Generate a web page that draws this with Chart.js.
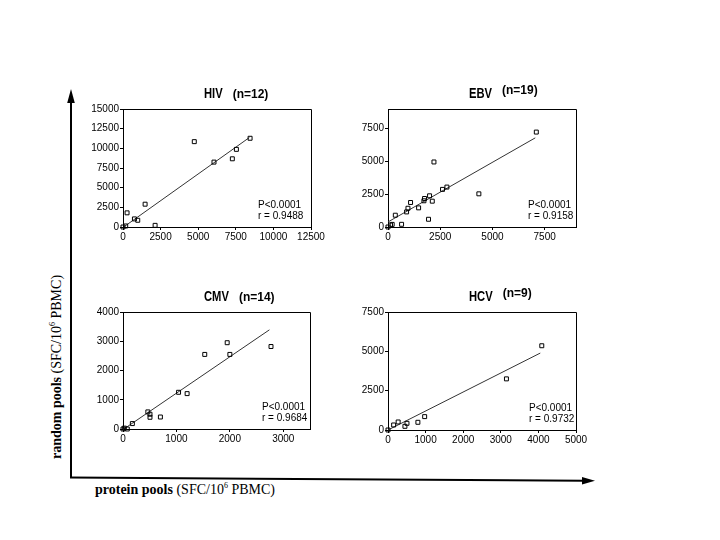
<!DOCTYPE html>
<html><head><meta charset="utf-8">
<script src="https://cdn.jsdelivr.net/npm/chart.js@4.4.0/dist/chart.umd.min.js"></script>
<style>
html,body{margin:0;padding:0;background:#fff;width:720px;height:540px;overflow:hidden;position:relative}
.pane{position:absolute}
.lbl{position:absolute;font-family:"Liberation Serif","Times New Roman",serif;font-size:14px;color:#000;white-space:nowrap;line-height:16px}
.lbl sup{font-size:8px;vertical-align:6px;line-height:0}
</style></head><body>
<svg width="720" height="540" style="position:absolute;left:0;top:0">
  <line x1="71" y1="100" x2="71" y2="478" stroke="#000" stroke-width="2"/>
  <polygon points="71,89 67.2,103 74.8,103" fill="#000"/>
  <line x1="70" y1="477.5" x2="584" y2="480.7" stroke="#000" stroke-width="2"/>
  <polygon points="595,480.7 582,477 582,484.4" fill="#000"/>
</svg>
<div class="lbl" id="ylab" style="left:57px;top:367px;transform:translate(-50%,-50%) rotate(-90deg)"><b>random pools</b> (SFC/10<sup>6</sup> PBMC)</div>
<div class="lbl" id="xlab" style="left:95px;top:482px"><b>protein pools</b> (SFC/10<sup>6</sup> PBMC)</div>
<div class="pane" id="p0"><canvas id="c0"></canvas></div>
<div class="pane" id="p1"><canvas id="c1"></canvas></div>
<div class="pane" id="p2"><canvas id="c2"></canvas></div>
<div class="pane" id="p3"><canvas id="c3"></canvas></div>
<script>
// ---------- data ----------
const hivProtein = [0, 180, 270, 760, 980, 1470, 2135, 4740, 6050, 7270, 7540, 8450];
const hivRandom  = [0, 130, 1800, 1030, 855, 2900, 210, 10850, 8250, 8670, 9870, 11280];
const hivFitX = [0, 8400];
const hivFitY = [-60, 11370];
const hivXTicks = [0, 2500, 5000, 7500, 10000, 12500];
const hivYTicks = [0, 2500, 5000, 7500, 10000, 12500, 15000];

const ebvProtein = [0, 120, 200, 350, 650, 890, 955, 1080, 1465, 1720, 1750, 1990, 1940, 2120, 2200, 2610, 2820, 4350, 7100];
const ebvRandom  = [0, 150, 200, 900, 205, 1150, 1430, 1870, 1460, 2000, 2175, 2380, 590, 1970, 4960, 2870, 3045, 2530, 7240];
const ebvFitX = [0, 7050];
const ebvFitY = [384, 6800];
const ebvXTicks = [0, 2500, 5000, 7500];
const ebvYTicks = [0, 2500, 5000, 7500];

const cmvProtein = [0, 25, 80, 175, 465, 505, 505, 700, 1040, 1200, 1530, 1950, 2000, 2770];
const cmvRandom  = [0, 30, 0, 185, 585, 505, 400, 410, 1255, 1210, 2550, 2950, 2550, 2820];
const cmvFitX = [0, 2740];
const cmvFitY = [-20, 3390];
const cmvXTicks = [0, 1000, 2000, 3000];
const cmvYTicks = [0, 1000, 2000, 3000, 4000];

const hcvProtein = [0, 150, 270, 450, 505, 795, 975, 3150, 4090];
const hcvRandom  = [0, 320, 510, 234, 425, 490, 850, 3250, 5355];
const hcvFitX = [0, 4050];
const hcvFitY = [0, 4890];
const hcvXTicks = [0, 1000, 2000, 3000, 4000, 5000];
const hcvYTicks = [0, 2500, 5000, 7500];

const panelNames = ['HIV', 'EBV', 'CMV', 'HCV'];
const panelN = ['(n=12)', '(n=19)', '(n=14)', '(n=9)'];
const pValues = ['P<0.0001', 'P<0.0001', 'P<0.0001', 'P<0.0001'];
const rValues = ['r = 0.9488', 'r = 0.9158', 'r = 0.9684', 'r = 0.9732'];

// ---------- layout ----------
const Y_W = 45, X_H = 25, PAD_T = 30, PAD_R = 16;
const panels = [
  {box:{l:123,t:109,w:188,h:118}, xs:hivProtein, ys:hivRandom, fx:hivFitX, fy:hivFitY, xt:hivXTicks, yt:hivYTicks, xmax:12500, ymax:15000, statDx:53, nDy:0},
  {box:{l:388,t:109,w:188,h:118}, xs:ebvProtein, ys:ebvRandom, fx:ebvFitX, fy:ebvFitY, xt:ebvXTicks, yt:ebvYTicks, xmax:9000, ymax:9000, statDx:48, nDy:-4},
  {box:{l:123,t:312,w:187,h:117}, xs:cmvProtein, ys:cmvRandom, fx:cmvFitX, fy:cmvFitY, xt:cmvXTicks, yt:cmvYTicks, xmax:3500, ymax:4000, statDx:48, nDy:0},
  {box:{l:388,t:312,w:188,h:118}, xs:hcvProtein, ys:hcvRandom, fx:hcvFitX, fy:hcvFitY, xt:hcvXTicks, yt:hcvYTicks, xmax:5000, ymax:7500, statDx:47, nDy:-4}
];

const deco = {
  id: 'deco',
  afterDraw(chart, args, o) {
    const {ctx, chartArea: a} = chart;
    ctx.save();
    ctx.strokeStyle = '#000';
    ctx.lineWidth = 1;
    ctx.beginPath();
    ctx.moveTo(a.left + 0.5, a.top + 0.5);
    ctx.lineTo(a.right + 0.5, a.top + 0.5);
    ctx.lineTo(a.right + 0.5, a.bottom + 0.5);
    ctx.stroke();
    // title
    ctx.fillStyle = '#000';
    ctx.textBaseline = 'middle';
    ctx.textAlign = 'left';
    ctx.font = 'bold 14px "Liberation Sans", Arial, sans-serif';
    const sx = 0.8;
    const nx = a.left + 81;
    const w = ctx.measureText(o.name).width * sx;
    ctx.save();
    ctx.translate(nx, a.top - 15);
    ctx.scale(sx, 1);
    ctx.fillText(o.name, 0, 0);
    ctx.restore();
    ctx.font = 'bold 12px "Liberation Sans", Arial, sans-serif';
    ctx.fillText(o.n, nx + w + 10, a.top - 14 + o.nDy);
    // stats
    ctx.font = '10px "Liberation Sans", Arial, sans-serif';
    ctx.fillText(o.p, a.right - o.statDx, a.bottom - 22);
    ctx.fillText(o.r, a.right - o.statDx, a.bottom - 10.5);
    ctx.restore();
  }
};

function axisCommon(ticks, max, isX) {
  return {
    type: 'linear', min: 0, max: max,
    afterBuildTicks: s => { s.ticks = ticks.map(v => ({value: v})); },
    afterFit: s => { if (isX) s.height = X_H; else s.width = Y_W; },
    grid: {display: true, drawOnChartArea: false, drawTicks: true, tickLength: 3, color: '#000', lineWidth: 1},
    border: {display: true, color: '#000', width: 1},
    ticks: {color: '#000', font: {family: '"Liberation Sans", Arial, sans-serif', size: 10}, padding: 1, maxRotation: 0, autoSkip: false,
            callback: v => String(v)}
  };
}

panels.forEach((p, i) => {
  const W = p.box.w + Y_W + PAD_R, H = p.box.h + PAD_T + X_H;
  const pane = document.getElementById('p' + i);
  pane.style.left = (p.box.l - Y_W) + 'px';
  pane.style.top = (p.box.t - PAD_T) + 'px';
  pane.style.width = W + 'px';
  pane.style.height = H + 'px';
  const cv = document.getElementById('c' + i);
  cv.width = W; cv.height = H;
  cv.style.width = W + 'px'; cv.style.height = H + 'px';
  new Chart(cv, {
    type: 'scatter',
    data: {
      datasets: [
        {
          data: p.xs.map((x, k) => ({x: x, y: p.ys[k]})),
          pointStyle: 'rect', pointRadius: 2.8, pointBorderWidth: 1,
          borderColor: '#000', backgroundColor: 'rgba(255,255,255,0)', clip: false
        },
        {
          data: p.fx.map((x, k) => ({x: x, y: p.fy[k]})),
          showLine: true, borderColor: '#333', borderWidth: 1, pointRadius: 0, fill: false, clip: false
        }
      ]
    },
    options: {
      responsive: false, animation: false, devicePixelRatio: 1,
      layout: {padding: {top: PAD_T, right: PAD_R, left: 0, bottom: 0}},
      plugins: {
        legend: {display: false}, tooltip: {enabled: false}, title: {display: false},
        deco: {name: panelNames[i], n: panelN[i], p: pValues[i], r: rValues[i], statDx: p.statDx, nDy: p.nDy}
      },
      scales: {
        x: axisCommon(p.xt, p.xmax, true),
        y: axisCommon(p.yt, p.ymax, false)
      }
    },
    plugins: [deco]
  });
});
</script>
</body></html>
